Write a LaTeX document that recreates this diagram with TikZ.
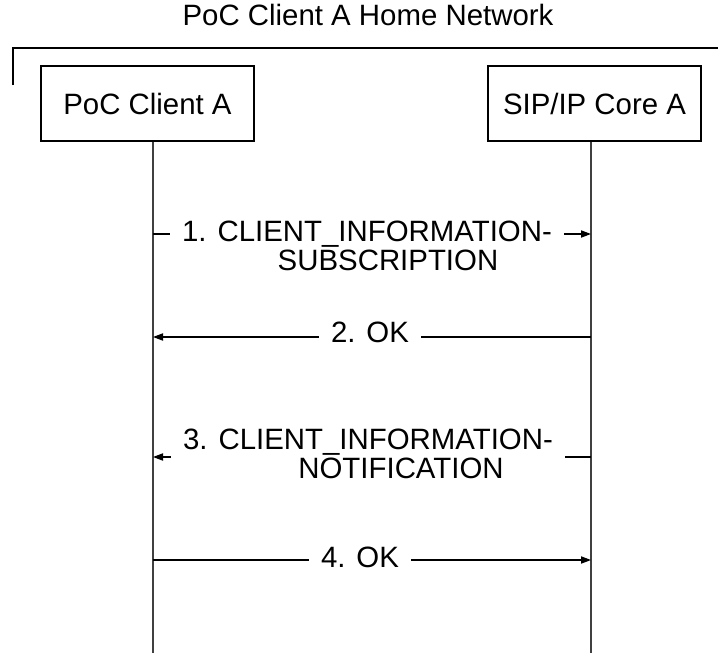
\documentclass[tikz,border=0pt]{standalone}
\usepackage{fontspec}
\setmainfont{Liberation Sans}
\usetikzlibrary{arrows.meta}

\begin{document}
\begin{tikzpicture}[x=0.5pt,y=-0.5pt,
	every node/.style={font=\fontsize{14.7}{14.8}\selectfont},
	entity/.style={draw,line width=0.6pt,minimum width=106.5pt,minimum height=37.5pt,inner sep=0pt},
	lifeline/.style={line width=0.6pt,black!75},
	msg/.style={line width=0.6pt,-{Triangle[length=5pt,width=3.6pt]}},
	msglabel/.style={fill=white,inner xsep=6pt,inner ysep=1pt,align=center}]
	\useasboundingbox (0,0) rectangle (718,660);
	
	% home network frame
	\node (net) at (368,15) {PoC Client A Home Network};
	\coordinate (frameA) at (13,85);
	\coordinate (frameB) at (13,48);
	\coordinate (frameC) at (718,48);
	\draw[line width=0.6pt] (frameA) -- (frameB) -- (frameC);
	
	% entities and lifelines
	\node[entity] (clientA) at (147.5,103.5) {PoC Client A};
	\node[entity] (coreA) at (594.5,103.5) {SIP/IP Core A};
	\coordinate (endA) at (153,653);
	\coordinate (endB) at (591,653);
	\draw[lifeline] (clientA.south -| endA) -- (endA);
	\draw[lifeline] (coreA.south -| endB) -- (endB);
	
	% messages
	\coordinate (m1) at (0,234);
	\coordinate (m2) at (0,337);
	\coordinate (m3) at (0,457);
	\coordinate (m4) at (0,560);
	
	\draw[msg] (endA |- m1) -- (endB |- m1);
	\node[msglabel] (l1) at (367,246) {1. CLIENT\_INFORMATION-\\\hspace*{21pt}SUBSCRIPTION};
	
	\draw[msg] (endB |- m2) -- (endA |- m2);
	\node[msglabel] (l2) at (370,332.5) {2. OK};
	
	\draw[msg] (endB |- m3) -- (endA |- m3);
	\node[msglabel,inner xsep=6pt] (l3) at (368,454) {3. CLIENT\_INFORMATION-\\\hspace*{33pt}NOTIFICATION};
	
	\draw[msg] (endA |- m4) -- (endB |- m4);
	\node[msglabel] (l4) at (360,557) {4. OK};
\end{tikzpicture}
\end{document}
